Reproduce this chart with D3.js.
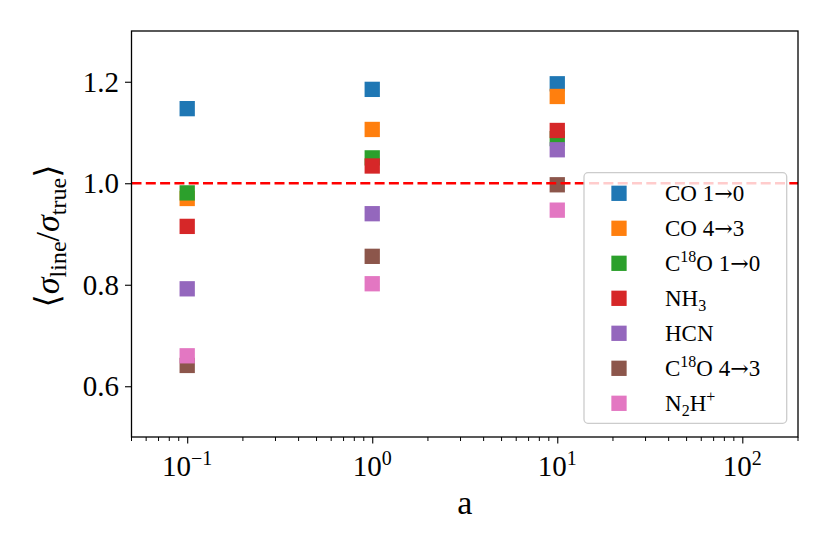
<!DOCTYPE html>
<html>
<head>
<meta charset="utf-8">
<script src="https://cdn.jsdelivr.net/npm/d3@7"></script>
<style>
  html, body { margin: 0; padding: 0; background: #fff; }
  svg { display: block; font-family: "Liberation Serif", "DejaVu Serif", serif; }
</style>
</head>
<body>
<svg id="chart" width="830" height="554"></svg>
<script>
// ---- data ----
const aValues = [0.1, 1, 10];
const seriesNames = ["CO 1→0", "CO 4→3", "C18O 1→0", "NH3", "HCN", "C18O 4→3", "N2H+"];
const coOneZero   = [1.147, 1.185, 1.196];
const coFourThree = [0.970, 1.106, 1.171];
const c18oOneZero = [0.981, 1.050, 1.088];
const nh3         = [0.915, 1.034, 1.104];
const hcn         = [0.792, 0.940, 1.066];
const c18oFourThree = [0.641, 0.856, 0.997];
const n2hp        = [0.660, 0.802, 0.947];
const seriesValues = [coOneZero, coFourThree, c18oOneZero, nh3, hcn, c18oFourThree, n2hp];
const colors = ["#1f77b4", "#ff7f0e", "#2ca02c", "#d62728", "#9467bd", "#8c564b", "#e377c2"];
const yTicks = [0.6, 0.8, 1.0, 1.2];
const xTicks = [0.1, 1, 10, 100];
const xTickExp = ["−1", "0", "1", "2"];
const refLine = 1.0;

// legend label parts: [text, mode] mode: n normal, u super, d sub, a arrow
const legendParts = [
  [["CO 1", "n"], ["→", "a"], ["0", "n"]],
  [["CO 4", "n"], ["→", "a"], ["3", "n"]],
  [["C", "n"], ["18", "u"], ["O 1", "n"], ["→", "a"], ["0", "n"]],
  [["NH", "n"], ["3", "d"]],
  [["HCN", "n"]],
  [["C", "n"], ["18", "u"], ["O 4", "n"], ["→", "a"], ["3", "n"]],
  [["N", "n"], ["2", "d"], ["H", "n"], ["+", "u"]]
];

const svg = d3.select("#chart");
const L = 131.5, R = 798, T = 31, B = 437;
const x = d3.scaleLog().domain([0.05, 200]).range([L, R]);
const y = d3.scaleLinear().domain([0.5, 1.3]).range([B, T]);

// markers
const ms = 15.3;
seriesValues.forEach((vals, si) => {
  svg.append("g").selectAll("rect")
    .data(vals.map((v, i) => ({a: aValues[i], v})))
    .join("rect")
    .attr("x", d => x(d.a) - ms / 2)
    .attr("y", d => y(d.v) - ms / 2)
    .attr("width", ms).attr("height", ms)
    .attr("fill", colors[si]);
});

// reference line
svg.append("line")
  .attr("x1", L).attr("x2", R)
  .attr("y1", y(refLine)).attr("y2", y(refLine))
  .attr("stroke", "#ff0000").attr("stroke-width", 2.7)
  .attr("stroke-dasharray", "10,4.3");

// axes
const gx = svg.append("g").attr("transform", `translate(0,${B})`);
const minor = [];
for (let e = -2; e <= 2; e++) for (let m = 2; m <= 9; m++) {
  const v = m * Math.pow(10, e);
  if (v >= 0.05 && v <= 200) minor.push(v);
}
gx.selectAll("line.minor").data(minor).join("line")
  .attr("x1", d => x(d)).attr("x2", d => x(d))
  .attr("y1", 0).attr("y2", 4).attr("stroke", "#000").attr("stroke-width", 1);
gx.call(d3.axisBottom(x).tickValues(xTicks).tickSize(6.5).tickFormat("").tickSizeOuter(0));
gx.select(".domain").remove();
gx.selectAll(".tick line").attr("stroke-width", 1.1);

const xl = svg.append("g").selectAll("text").data(xTicks).join("text")
  .attr("x", d => x(d)).attr("y", 476)
  .attr("text-anchor", "middle")
  .attr("font-size", 29);
xl.append("tspan").text("10");
xl.append("tspan").attr("dy", -11).attr("font-size", 20).text((d, i) => xTickExp[i]);
xl.each(function() {
  const bb = this.getBBox();
  const cx = +d3.select(this).attr("x");
  d3.select(this).attr("text-anchor", "start").attr("x", cx - bb.width / 2);
});

const gy = svg.append("g").attr("transform", `translate(${L},0)`);
gy.call(d3.axisLeft(y).tickValues(yTicks).tickSize(6.5).tickFormat(d3.format(".1f")).tickPadding(6));
gy.select(".domain").remove();
gy.selectAll(".tick line").attr("stroke-width", 1.1);
gy.selectAll(".tick text").attr("font-size", 29).attr("font-family", "Liberation Serif").attr("dy", "0.33em").attr("fill", "#000");

// frame
svg.append("rect").attr("x", L).attr("y", T).attr("width", R - L).attr("height", B - T)
  .attr("fill", "none").attr("stroke", "#000").attr("stroke-width", 1.3);

// axis labels
svg.append("text").attr("x", (L + R) / 2).attr("y", 514).attr("text-anchor", "middle")
  .attr("font-size", 34).text("a");

const yl = svg.append("text").attr("transform", "translate(59,236) rotate(-90)")
  .attr("text-anchor", "middle").attr("font-size", 34);
yl.append("tspan").text("⟨");
yl.append("tspan").attr("font-style", "italic").text("σ");
yl.append("tspan").attr("font-size", 24).attr("dy", 7).text("line");
yl.append("tspan").attr("dy", -7).text("/");
yl.append("tspan").attr("font-style", "italic").text("σ");
yl.append("tspan").attr("font-size", 24).attr("dy", 7).text("true");
yl.append("tspan").attr("dy", -7).text("⟩");

// legend
const lg = svg.append("g");
lg.append("rect").attr("x", 584).attr("y", 172.7).attr("width", 786.7 - 584).attr("height", 423.3 - 172.7)
  .attr("rx", 4).attr("fill", "#fff").attr("fill-opacity", 0.8)
  .attr("stroke", "#cccccc").attr("stroke-width", 1.3);
const row0 = 193.3, rowStep = 35.0;
seriesNames.forEach((name, i) => {
  const cy = row0 + i * rowStep;
  lg.append("rect").attr("x", 619 - ms / 2).attr("y", cy - ms / 2)
    .attr("width", ms).attr("height", ms).attr("fill", colors[i]);
  const t = lg.append("text").attr("x", 665).attr("y", cy + 8).attr("font-size", 23);
  let shift = 0;
  legendParts[i].forEach(([txt, mode]) => {
    const target = mode === "u" ? -9 : mode === "d" ? 5 : 0;
    const ts = t.append("tspan").attr("dy", target - shift)
      .attr("font-size", (mode === "n" || mode === "a") ? 23 : 16).text(txt);
    if (mode === "a") ts.attr("font-family", "DejaVu Serif").attr("font-size", 22);
    shift = target;
  });
});
</script>
</body>
</html>
